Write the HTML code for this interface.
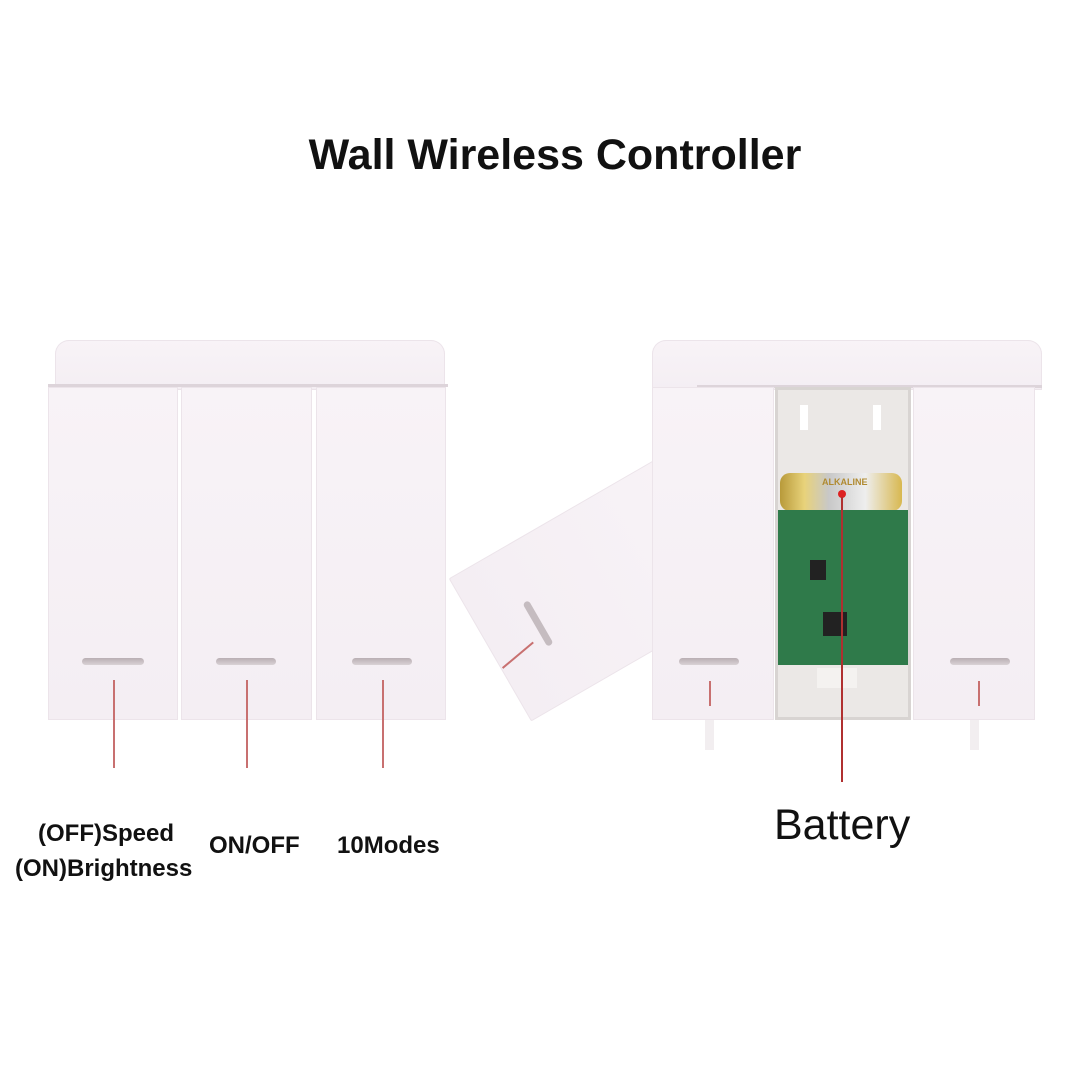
<!DOCTYPE html>
<html><head><style>
body{margin:0;width:1080px;height:1080px;background:#fff;position:relative;overflow:hidden;font-family:"Liberation Sans",sans-serif}
.a{position:absolute}
.p{background:linear-gradient(180deg,#f8f3f7,#f4eef3);box-shadow:inset 0 0 0 1px #ece4ea}
.bar{position:absolute;height:7px;border-radius:4px;background:linear-gradient(#b9aeb3,#d9d2d5);}
.rl{position:absolute;width:1.5px;background:#c87070}
.t{position:absolute;font-weight:bold;font-size:24px;color:#111;white-space:nowrap}
</style></head><body>
<div class="a" style="left:0;width:1110px;top:131px;text-align:center;font-size:43px;font-weight:bold;color:#111">Wall Wireless Controller</div>

<!-- left switch -->
<div class="a p" style="left:55px;top:340px;width:390px;height:50px;border-radius:14px 14px 0 0"></div>
<div class="a" style="left:48px;top:384px;width:400px;height:3px;background:#ddd4da"></div>
<div class="a p" style="left:48px;top:387px;width:130px;height:333px"></div>
<div class="a p" style="left:181px;top:387px;width:131px;height:333px"></div>
<div class="a p" style="left:316px;top:387px;width:130px;height:333px"></div>
<div class="bar" style="left:82px;top:658px;width:62px"></div>
<div class="bar" style="left:216px;top:658px;width:60px"></div>
<div class="bar" style="left:352px;top:658px;width:60px"></div>
<div class="rl" style="left:113px;top:680px;height:88px"></div>
<div class="rl" style="left:246px;top:680px;height:88px"></div>
<div class="rl" style="left:382px;top:680px;height:88px"></div>

<!-- tilted button -->
<div class="a p" style="left:520px;top:455px;width:165px;height:260px;transform:rotate(60deg);transform-origin:center;border-radius:2px"></div>

<!-- right switch -->
<div class="a p" style="left:652px;top:340px;width:390px;height:50px;border-radius:14px 14px 0 0"></div>
<div class="a" style="left:697px;top:385px;width:345px;height:3px;background:#ddd4da"></div>
<div class="a p" style="left:652px;top:387px;width:122px;height:333px"></div>
<div class="a" style="left:775px;top:387px;width:136px;height:333px;background:#ebe8e6;box-shadow:inset 0 0 0 3px #d8d4d2"></div>
<div class="a" style="left:800px;top:405px;width:8px;height:25px;background:#fff"></div>
<div class="a" style="left:873px;top:405px;width:8px;height:25px;background:#fff"></div>
<div class="a" style="left:780px;top:473px;width:122px;height:38px;border-radius:10px;background:linear-gradient(90deg,#b89a3a,#e8d27a 20%,#c8c8c8 40%,#eee 70%,#d8b850)"></div>
<div class="a" style="left:822px;top:477px;font-size:9px;color:#b08a30;font-weight:bold">ALKALINE</div>
<div class="a" style="left:778px;top:510px;width:130px;height:155px;background:#2f7a4a"></div>
<div class="a" style="left:810px;top:560px;width:16px;height:20px;background:#222"></div>
<div class="a" style="left:823px;top:612px;width:24px;height:24px;background:#222"></div>
<div class="a" style="left:817px;top:668px;width:40px;height:20px;background:#f4f2f0"></div>
<div class="a" style="left:838px;top:490px;width:8px;height:8px;border-radius:50%;background:#d22"></div>
<div class="rl" style="left:841px;top:497px;height:285px;background:#b03030"></div>
<div class="a p" style="left:913px;top:387px;width:122px;height:333px"></div>
<div class="bar" style="left:679px;top:658px;width:60px"></div>
<div class="bar" style="left:950px;top:658px;width:60px"></div>
<div class="rl" style="left:709px;top:681px;height:25px"></div>
<div class="rl" style="left:978px;top:681px;height:25px"></div>
<div class="a" style="left:705px;top:720px;width:9px;height:30px;background:#f2eef0"></div>
<div class="a" style="left:970px;top:720px;width:9px;height:30px;background:#f2eef0"></div>

<div class="a" style="left:513px;top:620px;width:50px;height:7px;border-radius:4px;background:#c5bcc0;transform:rotate(60deg)"></div>
<div class="rl" style="left:517px;top:635px;height:40px;transform:rotate(50deg)"></div>

<div class="t" style="left:38px;top:820px">(OFF)Speed</div>
<div class="t" style="left:15px;top:855px">(ON)Brightness</div>
<div class="t" style="left:209px;top:832px">ON/OFF</div>
<div class="t" style="left:337px;top:832px">10Modes</div>
<div class="a" style="left:774px;top:801px;font-size:43px;color:#111">Battery</div>
</body></html>
